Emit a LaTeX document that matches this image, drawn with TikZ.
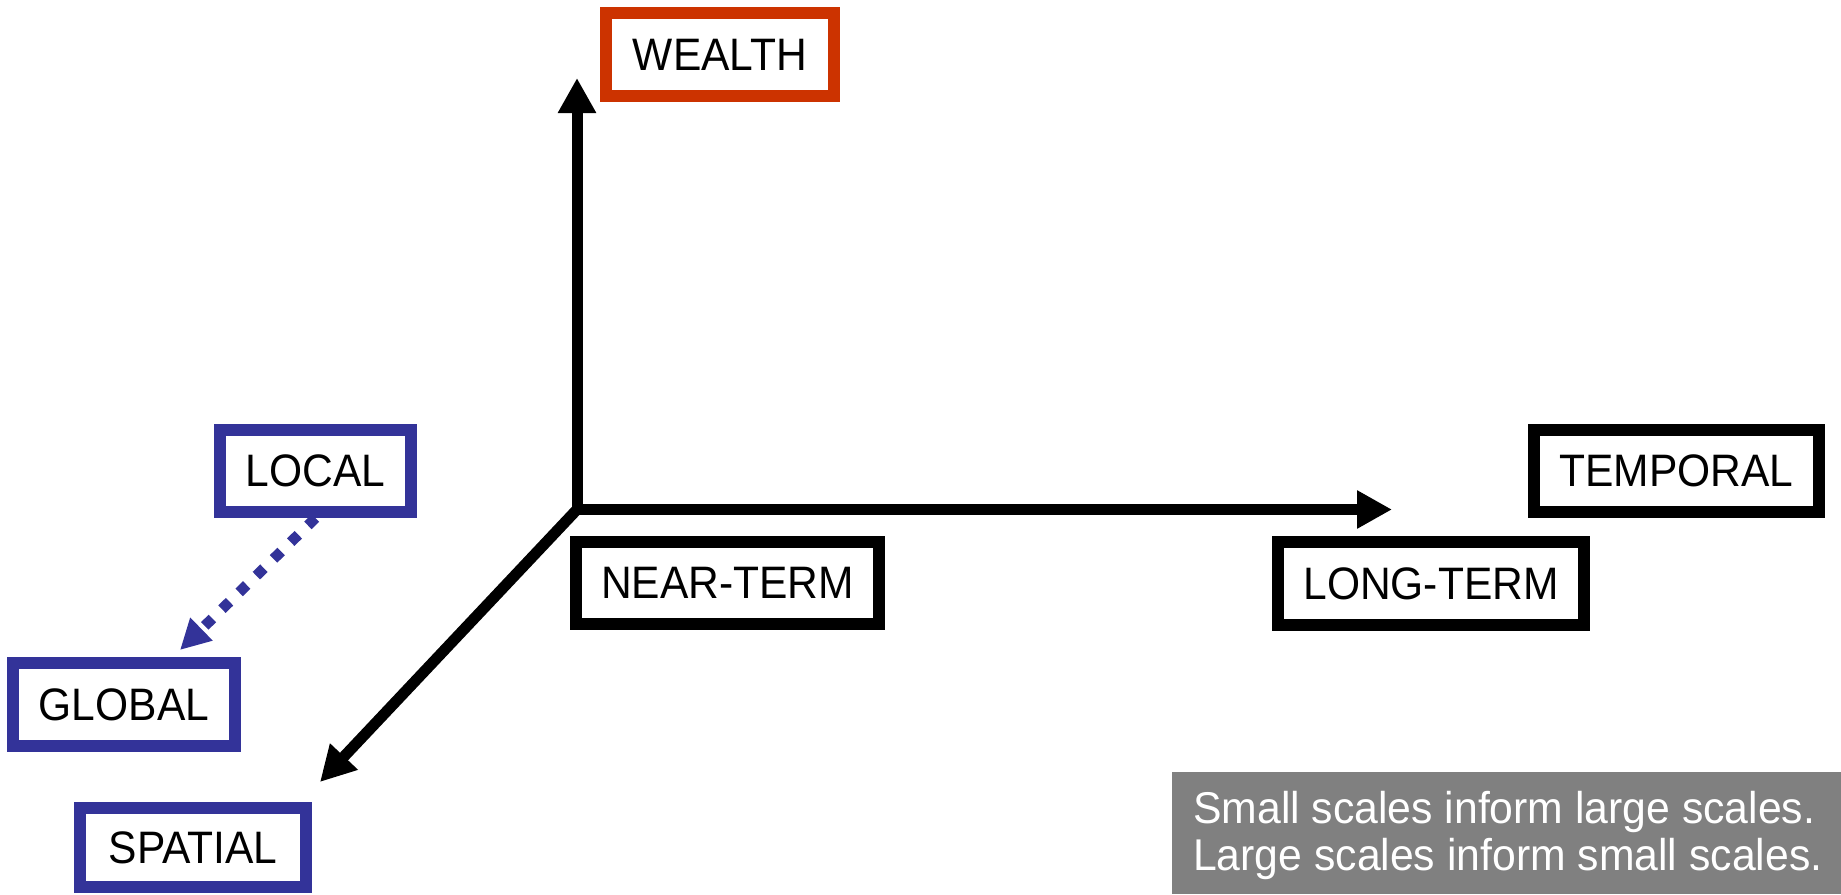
\documentclass[tikz,border=0pt]{standalone}
\usepackage{fontspec}
\setmainfont{Liberation Sans}[FakeStretch=0.935]
\newfontfamily\notefont{Liberation Sans}[FakeStretch=0.96]
\usetikzlibrary{arrows.meta}
\definecolor{boxred}{RGB}{204,51,0}
\definecolor{boxblue}{RGB}{51,51,153}
\definecolor{notegray}{RGB}{128,128,128}
\begin{document}
\begin{tikzpicture}[x=1pt,y=-1pt,
  lbl/.style={draw=black, line width=12pt, fill=white, inner sep=0pt,
    font=\fontsize{45.5}{50}\selectfont, text=black},
  bluebox/.style={lbl, draw=boxblue},
  redbox/.style={lbl, draw=boxred},
  axisline/.style={line width=11pt, line join=miter, draw=black},
  dotline/.style={draw=boxblue, line width=10.6pt, dash pattern=on 10.6pt off 13.4pt,
    -{Triangle[length=30pt,width=30pt]}},
  notebox/.style={fill=notegray, draw=none, inner sep=0pt},
  notetxt/.style={text=white, align=left, inner sep=0pt,
    font=\notefont\fontsize{44.5}{47}\selectfont}
]
\useasboundingbox (0,0) rectangle (1841,894);

% boxes
\node[redbox, minimum width=228pt, minimum height=83pt] (wealth) at (720,54.5) {WEALTH};
\node[bluebox, minimum width=191pt, minimum height=82pt] (local) at (315.5,471) {LOCAL};
\node[bluebox, minimum width=222pt, minimum height=83pt] (global) at (124,704.5) {GLOBAL};
\node[bluebox, minimum width=226pt, minimum height=79pt] (spatial) at (193,847.5) {SPATIAL};
\node[lbl, minimum width=303pt, minimum height=82pt] (near) at (727.5,583) {NEAR-TERM};
\node[lbl, minimum width=306pt, minimum height=83pt] (long) at (1431,583.5) {LONG-TERM};
\node[lbl, minimum width=285pt, minimum height=82pt] (temporal) at (1676.5,471) {TEMPORAL};

% note
\node[notebox, minimum width=669pt, minimum height=122pt] (note) at (1506.5,833) {};
\node[notetxt, anchor=west] (notetext) at (1193,835)
  {Small scales inform large scales.\\Large scales inform small scales.};

% axes
\coordinate (O) at (577,509.5);
\coordinate (upTip) at (577,78);
\coordinate (rightTip) at (1392,509.5);
\coordinate (spTip) at (320,782);
\draw[axisline, {Triangle[length=35pt,width=36pt]}-{Triangle[length=35pt,width=36pt]}] (upTip) -- (O) -- (rightTip);
\draw[axisline, -{Triangle[length=35pt,width=36pt]}] (O) -- (spTip);

% dotted arrow
\coordinate (gTip) at (180,650);
\draw[dotline] (local.south) -- (gTip);
\end{tikzpicture}
\end{document}
